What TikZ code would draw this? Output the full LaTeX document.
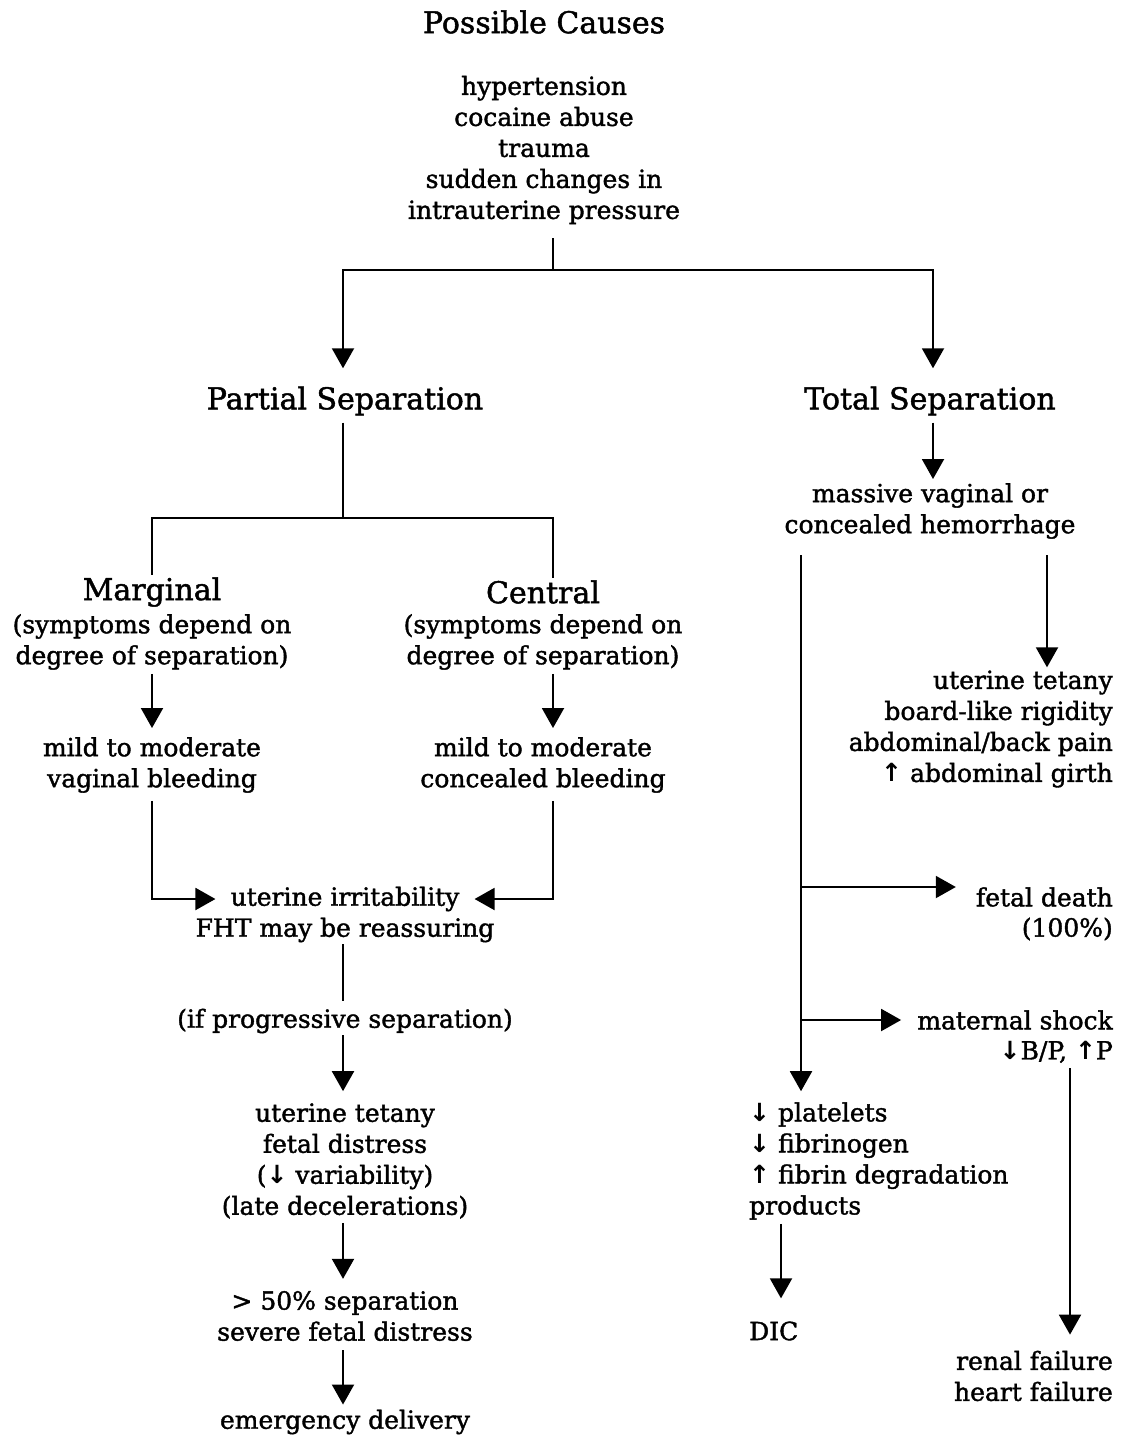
\documentclass[tikz,border=0pt]{standalone}
\usepackage{fontspec}
\setmainfont{DejaVu Serif}
\newfontfamily\textfam{DejaVu Serif}[FakeBold=1.5]
\newfontfamily\arrowfont{DejaVu Sans}
\usetikzlibrary{arrows.meta,calc}

\newcommand\bodyfont{\textfam\fontsize{25}{31}\selectfont}
\newcommand\headfont{\textfam\fontsize{30}{34}\selectfont}
\newcommand\dn{{\arrowfont\bfseries ↓}}
\newcommand\up{{\arrowfont\bfseries ↑}}

\tikzset{
  txt/.style={font=\bodyfont, inner sep=0pt, align=center},
  head/.style={font=\headfont, inner sep=0pt},
  link/.style={line width=2pt},
  arr/.style={link, -{Triangle[length=20pt,width=22pt]}},
}

\begin{document}
\begin{tikzpicture}[x=1pt,y=-1pt]
  \useasboundingbox (0,0) rectangle (1122,1437);

  % ---------- causes ----------
  \node[head] (title) at (544,22) {Possible Causes};
  \node[txt] (causes) at (544,150) {hypertension\\cocaine abuse\\trauma\\sudden changes in\\intrauterine pressure};

  % ---------- separation types ----------
  \node[head] (partial) at (345,401) {Partial Separation};
  \node[head] (total) at (930,401) {Total Separation};

  % ---------- partial branch ----------
  \node[head] (marginal) at (152,592) {Marginal};
  \node[txt] (margsub) at (152,642) {(symptoms depend on\\degree of separation)};
  \node[head] (central) at (543,592) {Central};
  \node[txt] (centsub) at (543,642) {(symptoms depend on\\degree of separation)};
  \node[txt] (mildv) at (152,765) {mild to moderate\\vaginal bleeding};
  \node[txt] (mildc) at (543,765) {mild to moderate\\concealed bleeding};
  \node[txt] (irrit) at (345,899) {uterine irritability};
  \node[txt] (fht) at (345,930) {FHT may be reassuring};
  \node[txt] (progress) at (345,1021) {(if progressive separation)};
  \node[txt] (tetanyL) at (345,1161) {uterine tetany\\fetal distress\\(\dn{} variability)\\(late decelerations)};
  \node[txt] (fifty) at (345,1316) {> 50\% separation\\severe fetal distress};
  \node[txt] (emerg) at (345,1422) {emergency delivery};

  % ---------- total branch ----------
  \node[txt] (massive) at (930,511) {massive vaginal or\\concealed hemorrhage};
  \node[txt, align=right, anchor=east] (tetanyR) at (1113,729) {uterine tetany\\board-like rigidity\\abdominal/back pain\\\up{} abdominal girth};
  \node[txt, anchor=east] (fetal) at (1113,897) {fetal death};
  \node[txt, anchor=east] (fetalpct) at (1113,929) {(100\%)};
  \node[txt, anchor=east] (shock) at (1113,1020) {maternal shock};
  \node[txt, anchor=east] (shockvals) at (1113,1052) {\dn B/P, \up P};
  \node[txt, align=right, anchor=east] (organs) at (1113,1376) {renal failure\\heart failure};
  \node[txt, align=left, anchor=west] (labs) at (749,1161) {\dn{} platelets\\\dn{} fibrinogen\\\up{} fibrin degradation\\products};
  \node[txt, anchor=west] (dic) at (749,1331) {DIC};

  % ---------- junctions ----------
  \coordinate (split) at (553,270);
  \coordinate (psplit) at (343,518);
  \coordinate (trunk) at (801,555);
  \coordinate (rtrunk) at (1047,555);
  \coordinate (tofetal) at (801,887);
  \coordinate (toshock) at (801,1020);
  \coordinate (failstart) at (1070,1068);

  % ---------- connectors ----------
  \draw[link] ([yshift=-14pt]causes.south -| split) -- (split);
  \draw[arr] (split) -| ([xshift=-2pt,yshift=18pt]partial.north);
  \draw[arr] (split) -| ([xshift=3pt,yshift=18pt]total.north);

  \draw[link] ([xshift=-2pt,yshift=-7pt]partial.south) -- (psplit);
  \draw[link] (psplit) -| ([yshift=2pt]marginal.north);
  \draw[link] (psplit) -| ([xshift=10pt,yshift=2pt]central.north);

  \draw[arr] ([yshift=-4pt]margsub.south) -- ([yshift=9pt]mildv.north);
  \draw[arr] ([xshift=10pt,yshift=-4pt]centsub.south) -- ([xshift=10pt,yshift=9pt]mildc.north);

  \draw[arr, shorten >=15pt] ([yshift=-8pt]mildv.south) |- (irrit.west);
  \draw[arr, shorten >=15pt] ([xshift=10pt,yshift=-8pt]mildc.south) |- (irrit.east);

  \draw[link] ([xshift=-2pt,yshift=-2pt]fht.south) -- ([xshift=-2pt,yshift=8pt]progress.north);
  \draw[arr] ([xshift=-2pt,yshift=-2pt]progress.south) -- ([xshift=-2pt,yshift=12pt]tetanyL.north);
  \draw[arr] ([xshift=-2pt,yshift=-4pt]tetanyL.south) -- ([xshift=-2pt,yshift=12pt]fifty.north);
  \draw[arr] ([xshift=-2pt,yshift=-9pt]fifty.south) -- ([xshift=-2pt,yshift=5pt]emerg.north);

  \draw[arr] ([xshift=3pt,yshift=-7pt]total.south) -- ([xshift=3pt,yshift=4pt]massive.north);
  \draw[arr, shorten >=11pt] (trunk) -- (trunk |- labs.north);
  \draw[arr, shorten >=20pt] (tofetal) -- (tofetal -| fetal.west);
  \draw[arr, shorten >=16pt] (toshock) -- (toshock -| shock.west);
  \draw[arr, shorten >=3pt] (rtrunk) -- (rtrunk |- tetanyR.north);
  \draw[arr] ([xshift=32pt,yshift=-4pt]labs.south west) -- ([xshift=32pt,yshift=23pt]dic.north west);
  \draw[arr, shorten >=16pt] (failstart) -- (failstart |- organs.north);
\end{tikzpicture}
\end{document}
